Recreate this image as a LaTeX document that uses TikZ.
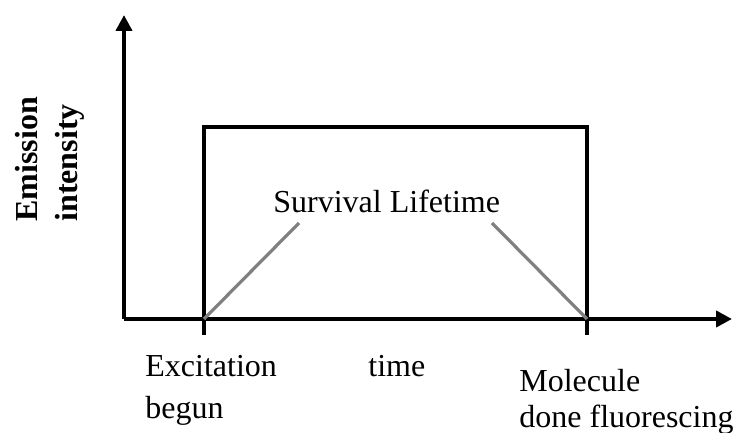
\documentclass[tikz,border=0pt]{standalone}
\usepackage{fontspec}
\setmainfont{Liberation Serif}
\usetikzlibrary{arrows.meta}
\definecolor{lifeGray}{RGB}{128,128,128}
\tikzset{
  axis/.style={line width=2pt, -{Triangle[length=8pt,width=8pt]}},
  box/.style={line width=2pt},
  guide/.style={lifeGray, line width=1.6pt},
  label/.style={font=\fontsize{16}{21}\selectfont, inner sep=0pt, align=left}
}

\begin{document}
\begin{tikzpicture}[x=0.5pt, y=-0.5pt]
    \useasboundingbox (0,0) rectangle (741,433);

    % Axes
    \coordinate (origin) at (124,319);
    \coordinate (yend) at (124,15);
    \coordinate (xend) at (732,319);
    \draw[axis] (origin) -- (yend);
    \draw[axis] (origin) -- (xend);

    % Emission window
    \coordinate (start) at (204,319);
    \coordinate (stop) at (587,319);
    \draw[box] (204,335) -- (204,127) -- (587,127) -- (587,335);

    % Lifetime label with guides
    \node[label, anchor=base west] (life) at (273,213) {Survival Lifetime};
    \coordinate (lifeL) at (299,223);
    \coordinate (lifeR) at (492,223);
    \draw[guide] (start) -- (lifeL);
    \draw[guide] (stop) -- (lifeR);

    % Axis labels (base = last line)
    \node[label, font=\fontsize{16}{20}\selectfont\bfseries, rotate=90, anchor=base west] (ylab) at (77,222) {Emission\\intensity};
    \node[label, anchor=base west] (begin) at (145,419) {Excitation\\begun};
    \node[label, anchor=base west] (tlab) at (368,377) {time};
    \node[label, font=\fontsize{16}{18}\selectfont, anchor=base west] (done) at (519,428) {Molecule\\done fluorescing};
\end{tikzpicture}
\end{document}
